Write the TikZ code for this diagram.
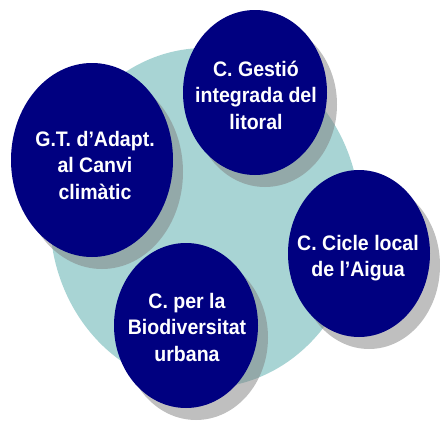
\documentclass[tikz,border=0pt]{standalone}
\usepackage{fontspec}
\setmainfont{Liberation Sans}[FakeStretch=0.93]
\usetikzlibrary{shapes.geometric,shadows}
\definecolor{poolteal}{RGB}{168,212,212}
\definecolor{bubblenavy}{RGB}{0,0,128}

\begin{document}
\begin{tikzpicture}[
    x=1pt, y=-1pt,
    pool/.style={ellipse, fill=poolteal, inner sep=0pt},
    bubble/.style={ellipse, fill=bubblenavy, inner sep=0pt,
        drop shadow={shadow xshift=10pt, shadow yshift=-12pt, fill=gray, opacity=0.5}},
    caption/.style={text=white, align=center, inner sep=0pt,
        font=\fontsize{21}{26.5}\selectfont\bfseries}
    ]
\useasboundingbox (0,0) rectangle (440,423);

% Background
\node[pool, minimum width=310pt, minimum height=340pt] (pool) at (205,218) {};

% Bubbles
\node[bubble, minimum width=162pt, minimum height=194pt] (gt) at (92,160) {};
\node[bubble, minimum width=144pt, minimum height=165pt] (litoral) at (255,92.5) {};
\node[bubble, minimum width=142pt, minimum height=167pt] (aigua) at (359,253.5) {};
\node[bubble, minimum width=144pt, minimum height=165pt] (biodiv) at (186,325.5) {};

% Texts
\node[caption] (gt text) at (95,165) {G.T. d’Adapt.\\al Canvi\\climàtic};
\node[caption] (litoral text) at (256,95) {C. Gestió\\integrada del\\litoral};
\node[caption] (aigua text) at (358,258) {C. Cicle local\\de l’Aigua};
\node[caption] (biodiv text) at (187,327) {C. per la\\Biodiversitat\\urbana};

\end{tikzpicture}
\end{document}
